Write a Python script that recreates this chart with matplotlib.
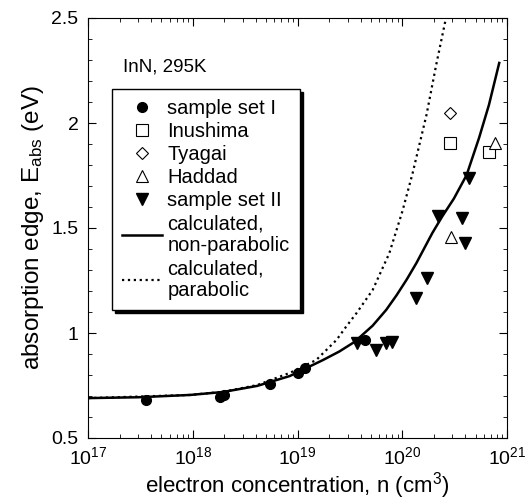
import matplotlib
matplotlib.use("Agg")
import matplotlib.pyplot as plt
from matplotlib.ticker import MultipleLocator, LogLocator, NullFormatter, FixedLocator, FixedFormatter

plt.rcParams['font.family'] = ['Liberation Sans', 'DejaVu Sans']
plt.rcParams['mathtext.fontset'] = 'custom'
plt.rcParams['mathtext.rm'] = 'Liberation Sans'
plt.rcParams['mathtext.it'] = 'Liberation Sans'

# sample set I (filled circles)
set1_n = [3.6e17, 1.8e18, 2.0e18, 5.5e18, 1.0e19, 1.17e19, 4.4e19]
set1_e = [0.681, 0.695, 0.705, 0.757, 0.81, 0.833, 0.967]

# sample set II (filled down triangles)
set2_n = [3.7e19, 5.6e19, 7.0e19, 7.9e19, 1.36e20, 1.72e20, 2.2e20, 3.7e20, 4.3e20, 4.0e20]
set2_e = [0.952, 0.92, 0.952, 0.957, 1.167, 1.26, 1.555, 1.548, 1.738, 1.43]

# literature data
inushima_n = [2.85e20, 6.7e20]
inushima_e = [1.905, 1.862]
tyagai_n = [2.85e20]
tyagai_e = [2.048]
haddad_n = [2.9e20, 7.7e20]
haddad_e = [1.455, 1.905]

# calculated curves
nonpar_n = [1e17, 3e17, 9.4e17, 1.93e18, 4.1e18, 8.4e18, 1.74e19, 2.5e19, 3.5e19, 5.2e19,
            7e19, 8.8e19, 1.1e20, 1.36e20, 1.93e20, 2.4e20, 3.1e20, 4.1e20, 5.4e20, 6.7e20, 8.4e20]
nonpar_e = [0.690, 0.694, 0.705, 0.719, 0.748, 0.795, 0.871, 0.912, 0.958, 1.035,
            1.11, 1.18, 1.255, 1.333, 1.476, 1.555, 1.64, 1.752, 1.93, 2.086, 2.286]
par_n = [1e17, 9.4e17, 1.93e18, 4.1e18, 8.4e18, 1.5e19, 2.35e19, 2.9e19, 3.65e19,
         5.2e19, 7.5e19, 1.0e20, 1.25e20, 1.7e20, 2.1e20, 2.64e20]
par_e = [0.690, 0.705, 0.72, 0.752, 0.81, 0.871, 0.967, 1.03, 1.095,
         1.205, 1.38, 1.58, 1.76, 2.04, 2.276, 2.514]

fig = plt.figure(figsize=(5.25, 5.0), dpi=100)
ax = fig.add_axes([0.168, 0.124, 0.798, 0.840])

ax.plot(set1_n, set1_e, 'o', color='black', markersize=7, label='sample set I', zorder=4)
ax.plot(inushima_n, inushima_e, 's', mfc='white', mec='black', mew=0.8, markersize=8,
        label='Inushima', zorder=4)
ax.plot(tyagai_n, tyagai_e, 'D', mfc='white', mec='black', mew=0.8, markersize=6.5,
        label='Tyagai', zorder=4)
ax.plot(haddad_n, haddad_e, '^', mfc='white', mec='black', mew=0.8, markersize=8,
        label='Haddad', zorder=4)
ax.plot(set2_n, set2_e, 'v', color='black', markersize=8, label='sample set II', zorder=4)
ax.plot(nonpar_n, nonpar_e, '-', color='black', lw=1.8, label='calculated,\nnon-parabolic')
ax.plot(par_n, par_e, ':', color='black', lw=1.6, label='calculated,\nparabolic')

ax.set_xscale('log')
ax.set_xlim(1e17, 1e21)
ax.set_ylim(0.5, 2.5)

ax.xaxis.set_major_locator(FixedLocator([1e17, 1e18, 1e19, 1e20, 1e21]))
ax.xaxis.set_major_formatter(FixedFormatter(['$10^{17}$', '$10^{18}$', '$10^{19}$',
                                             '$10^{20}$', '$10^{21}$']))
ax.xaxis.set_minor_locator(LogLocator(base=10, subs=range(2, 10), numticks=20))
ax.xaxis.set_minor_formatter(NullFormatter())
ax.yaxis.set_major_locator(FixedLocator([0.5, 1, 1.5, 2, 2.5]))
ax.yaxis.set_major_formatter(FixedFormatter(['0.5', '1', '1.5', '2', '2.5']))
ax.yaxis.set_minor_locator(MultipleLocator(0.1))

ax.tick_params(which='both', direction='in', top=True, right=True, labelsize=14)
ax.tick_params(which='major', length=6, width=0.8)
ax.tick_params(which='minor', length=3, width=0.6)
ax.tick_params(axis='x', pad=6)
ax.tick_params(axis='y', pad=7)

ax.set_xlabel('electron concentration, n (cm$^3$)', fontsize=16, labelpad=1)
ax.set_ylabel('absorption edge, E$_{abs}$ (eV)', fontsize=17.5, labelpad=4)

ax.text(0.084, 0.883, 'InN, 295K', transform=ax.transAxes, fontsize=13.5, va='center')

leg = ax.legend(loc='upper left', bbox_to_anchor=(0.057, 0.831), borderaxespad=0,
                fontsize=14.5, frameon=True, fancybox=False, edgecolor='black',
                shadow={'color': 'black', 'alpha': 1}, handlelength=2.0,
                handletextpad=0.25, labelspacing=0.2, borderpad=0.5)
leg.get_frame().set_linewidth(1.0)

for s in ax.spines.values():
    s.set_linewidth(0.8)

fig.savefig('out.png', dpi=100)
